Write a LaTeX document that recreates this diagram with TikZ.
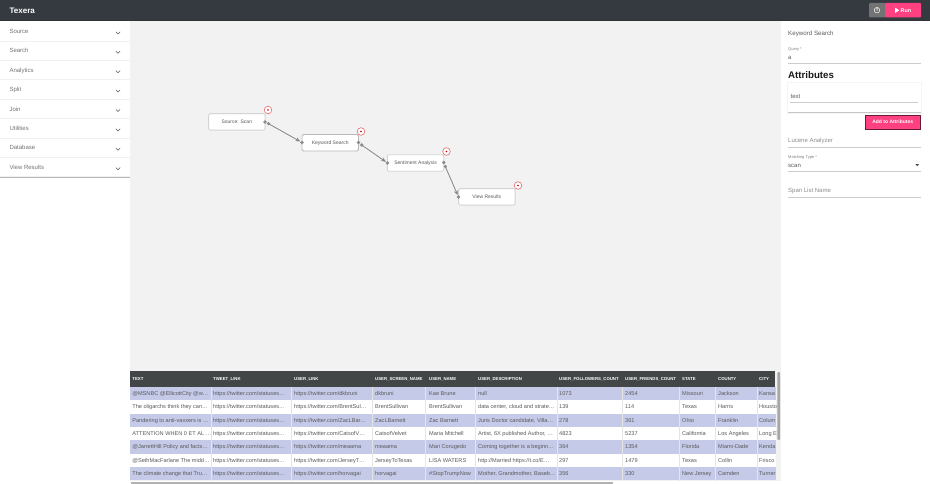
\documentclass[tikz,border=0pt]{standalone}
\usepackage{fontspec}
\setmainfont{Liberation Sans}
\usetikzlibrary{arrows.meta}
\definecolor{hdr}{HTML}{343A40}
\definecolor{canvas}{HTML}{F2F2F2}
\definecolor{pinkb}{HTML}{FF4081}
\definecolor{rowb}{HTML}{C5CAE9}
\definecolor{thead}{HTML}{424647}
\definecolor{txt}{HTML}{5A5A5A}
\definecolor{xred}{HTML}{E57373}
\newcommand{\fs}[1]{\fontsize{#1}{#1}\selectfont}
\tikzset{
  lab/.style={anchor=base west,inner sep=0pt,text=txt,font=\fs{6}},
  side/.style={lab,font=\fs{6},text=txt!85!white},
  chev/.style={draw=txt,line width=.55pt},
  sep/.style={draw=black!6,line width=.8pt},
  op/.style={draw=black!17,line width=.9pt,fill=white,rounded corners=1.5pt,inner sep=0pt,
    minimum width=56.5pt,minimum height=16.5pt,font=\fs{5},text=txt},
  port/.style={circle,fill=black!45,inner sep=0pt,minimum size=3.6pt},
  wire/.style={draw=black!48,line width=.8pt,-{Stealth[length=4.8pt,width=4pt]}},
  xbtn/.style={circle,draw=xred,line width=.65pt,fill=white,inner sep=0pt,minimum size=7.6pt},
  xdot/.style={circle,fill=red!70!black,inner sep=0pt,minimum size=1.7pt},
  cell/.style={anchor=base west,inner sep=0pt,text=txt,font=\fs{5.6}},
  head/.style={anchor=base west,inner sep=0pt,text=white,font=\bfseries\fs{4.3}},
  small/.style={lab,font=\fs{4},text=black!50},
  hint/.style={lab,text=black!45},
  field/.style={draw=black!20,line width=.7pt},
  pbtn/.style={fill=pinkb,inner sep=0pt},
}
\begin{document}
\begin{tikzpicture}[x=1pt,y=-1pt]
\useasboundingbox (0,0) rectangle (930,484);
\fill[white] (0,0) rectangle (930,484);
% regions
\fill[canvas] (130,21) rectangle (781,481);
\fill[hdr] (0,0) rectangle (930,20);
\fill[black!80] (0,20) rectangle (930,21.5);
\node[anchor=base west,inner sep=0pt,text=white,font=\bfseries\fs{8}] (title) at (9.5,13.3) {Texera};
% top buttons
\fill[black!55,rounded corners=1pt] (869,3) rectangle (886,17.5);
\node[circle,draw=white,line width=.5pt,inner sep=0pt,minimum size=5.5pt,text=white,font=\bfseries\fs{4}] (help) at (877,10.2) {?};
\fill[pinkb,rounded corners=1pt] (885,3) rectangle (921,17.5);
\fill[white] (895,7.6) -- (899.2,10.3) -- (895,13) -- cycle;
\node[anchor=base west,inner sep=0pt,text=white,font=\bfseries\fs{5.4}] (run) at (900.5,12.3) {Run};
% sidebar
\foreach \name/\yy [count=\i] in {Source/31.5,Search/50.9,Analytics/70.3,Split/89.7,Join/109.1,Utilities/128.5,Database/147.9,View Results/167.3}{
  \node[side] (s\i) at (9.3,\yy+2) {\name};
  \draw[chev] (115.9,\yy+.3) -- (118,\yy+2.4) -- (120.1,\yy+.3);
  \draw[sep] (0,\yy+9.5) -- (130,\yy+9.5);
}
\fill[black!28] (0,177) rectangle (130,178.3);
% operators
\node[op] (scan) at (236.8,121.9) {Source: Scan};
\node[op,draw=black!28] (kw) at (330.2,142.8) {Keyword Search};
\node[op] (sa) at (415.6,163) {Sentiment Analysis};
\node[op] (vr) at (486.8,196.9) {View Results};
\node[port] (scanout) at (265,122) {};
\node[port] (scanstart) at (268.5,123.7) {};
\node[port] (kwin) at (302,142.5) {};
\node[port] (kwout) at (358.5,142.5) {};
\node[port] (kwstart) at (361.7,145) {};
\node[port] (sain) at (387.5,163) {};
\node[port] (saout) at (443.7,162.5) {};
\node[port] (sastart) at (445.3,166.5) {};
\node[port] (vrin) at (458.5,197) {};
\draw[wire] (scanstart.center) -- (kwin);
\draw[wire] (kwstart.center) -- (sain);
\draw[wire] (sastart.center) -- (vrin);
\foreach \n/\xx/\yy in {a/268/110,b/361/131.5,c/446.5/151.5,d/518/185.5}{
  \node[xbtn] (x\n) at (\xx,\yy) {};
  \node[xdot] at (x\n) {};
}
% right panel
\fill[white] (781,21.5) rectangle (930,484);
\node[lab,font=\fs{6.2}] (ptitle) at (788,36) {Keyword Search};
\node[small] (q) at (788,50.5) {Query *};
\node[lab] (qv) at (788,59.5) {a};
\draw[field] (788,63.3) -- (921,63.3);
\node[anchor=base west,inner sep=0pt,text=black!90,font=\bfseries\fs{9.7}] (attr) at (788,78.4) {Attributes};
\fill[black!4] (787,82.5) rectangle (922,113.6);
\fill[black!22] (788,83.5) rectangle (921,112.6);
\fill[white] (788,83) rectangle (920.6,112);
\node[lab] (attrv) at (790.5,98.2) {text};
\draw[field] (790,102.3) -- (918,102.3);
\node[pbtn,draw=black!60!pinkb,line width=.6pt,minimum width=55pt,minimum height=14pt,text=white,font=\bfseries\fs{5}] (addb) at (892.7,122.2) {Add to Attributes};
\node[hint] (luc) at (788,143) {Lucene Analyzer};
\draw[field] (788,147.3) -- (921,147.3);
\node[small] (mt) at (788,158.5) {Matching Type *};
\node[lab,text=black!65] (mv) at (788,168) {scan};
\fill[black!70] (915.5,164.2) -- (919,164.2) -- (917.2,166.2) -- cycle;
\draw[draw=black!20,line width=1pt] (788,172) -- (921,172);
\node[hint] (span) at (788,193) {Span List Name};
\draw[field] (788,197.3) -- (921,197.3);
% table
\fill[thead] (130,371) rectangle (775.3,387);
\foreach \r in {0,2,4,6}{
  \fill[rowb] (130,387+\r*13.33) rectangle (775.7,387+\r*13.33+13.33);
}
\fill[white] (130,400.33) rectangle (775.7,413.66);
\fill[white] (130,426.99) rectangle (775.7,440.32);
\fill[white] (130,453.65) rectangle (775.7,466.98);
\foreach \cx in {210.7,291,372.3,425,475,556.7,622,679.3,715,756.7}{
  \draw[black!10,line width=.4pt] (\cx,387) -- (\cx,481);
}
\foreach \h/\hx [count=\c] in {TEXT/132.2,TWEET\_LINK/213,USER\_LINK/294,USER\_SCREEN\_NAME/375,USER\_NAME/429,USER\_DESCRIPTION/478,USER\_FOLLOWERS\_COUNT/559,USER\_FRIENDS\_COUNT/625,STATE/682,COUNTY/718,CITY/759}{
  \node[head] (h\c) at (\hx,380.6) {\h};
}
\def\tw{https://twitter.com/statuses…}
\foreach \row [count=\i] in {%
 {@MSNBC @EllicottCity @w…,\tw,https://twitter.com/dkbruni,dkbruni,Kae Brune,null,1073,2454,Missouri,Jackson,Kansa},%
 {The oligarchs think they can…,\tw,https://twitter.com/BrentSul…,BrentSullivan,BrentSullivan,{data center, cloud and strate…},139,114,Texas,Harris,Housto},%
 {Pandering to anti-vaxxers is …,\tw,https://twitter.com/ZacLBar…,ZacLBarnett,Zac Barnett,{Juris Doctor candidate, Villa…},278,361,Ohio,Franklin,Colum},%
 {ATTENTION WHEN 0 ET AL …,\tw,https://twitter.com/CatsofV…,CatsofVelvet,Maria Mitchell,{Artist, 6X published Author, …},4823,5237,California,Los Angeles,Long E},%
 {@JarrettHill Policy and facts…,\tw,https://twitter.com/meaama,meaama,Mari Corugedo,Coming together is a beginn…,364,1354,Florida,Miami-Dade,Kenda},%
 {@SethMacFarlane The midd…,\tw,https://twitter.com/JerseyT…,JerseyToTexas,LISA WATERS,http://Married https://t.co/E…,297,1479,Texas,Collin,Frisco},%
 {The climate change that Tru…,\tw,https://twitter.com/horvagai,horvagai,\#StopTrumpNow,{Mother, Grandmother, Baseb…},356,330,New Jersey,Camden,Turner}%
}{
  \foreach \t [count=\c] in \row {
    \pgfmathsetmacro{\tx}{{132.2,213,294,375,429,478,559,625,682,718,759}[\c-1]}
    \node[cell] (c\i-\c) at (\tx,387+\i*13.33-4.7) {\t};
  }
}
% scrollbars
\fill[black!35,rounded corners=1pt] (777.3,372) rectangle (780,440);
\fill[black!30] (131,482) rectangle (613,484);
\end{tikzpicture}
\end{document}
